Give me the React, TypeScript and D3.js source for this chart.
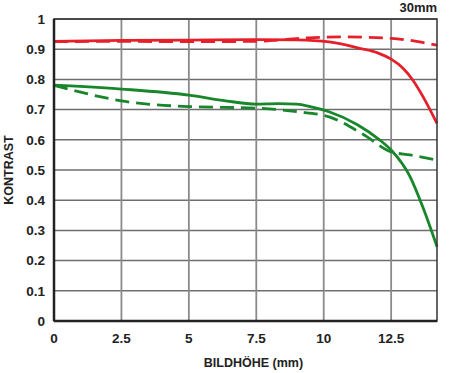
import * as d3 from "d3";

const WIDTH = 449;
const HEIGHT = 373;
const MARGIN = { top: 19, right: 12, bottom: 52, left: 54 };

const xTicks = [0, 2.5, 5, 7.5, 10, 12.5];
const yTicks = [0, 0.1, 0.2, 0.3, 0.4, 0.5, 0.6, 0.7, 0.8, 0.9, 1];

// Bildhöhe (mm) sample positions
const redSolidX = [0, 2.5, 5, 7.5, 9, 10.2, 11.33, 12, 12.5, 12.94, 13.3, 13.68, 14.2];
const redSolidY = [0.926, 0.929, 0.93, 0.932, 0.931, 0.924, 0.903, 0.888, 0.867, 0.837, 0.798, 0.743, 0.654];

const redDashX = [0, 2.5, 5, 7.5, 9.3, 10.6, 12.5, 13.5, 14.2];
const redDashY = [0.925, 0.926, 0.925, 0.926, 0.937, 0.941, 0.936, 0.925, 0.913];

const greenSolidX = [0, 2.5, 5, 6.3, 7.5, 8.3, 9, 9.5, 10.2, 11.25, 12.07, 12.5, 13.2, 13.67, 14.2];
const greenSolidY = [0.781, 0.768, 0.748, 0.73, 0.718, 0.72, 0.718, 0.71, 0.693, 0.65, 0.6, 0.566, 0.478, 0.378, 0.246];

const greenDashX = [0, 1.7, 2.5, 5, 7.5, 9, 10.2, 11.5, 12.5, 13.2, 14.2];
const greenDashY = [0.78, 0.743, 0.729, 0.71, 0.705, 0.693, 0.676, 0.616, 0.56, 0.55, 0.533];

const RED = "#e5202a";
const GREEN = "#18862a";
const FONT = "'Liberation Sans', Arial, sans-serif";

export default function App() {
  const boundsWidth = WIDTH - MARGIN.left - MARGIN.right;
  const boundsHeight = HEIGHT - MARGIN.top - MARGIN.bottom;

  const xScale = d3.scaleLinear().domain([0, 14.2]).range([0, boundsWidth]);
  const yScale = d3.scaleLinear().domain([0, 1]).range([boundsHeight, 0]);

  const line = d3
    .line<[number, number]>()
    .x((d) => xScale(d[0]))
    .y((d) => yScale(d[1]))
    .curve(d3.curveMonotoneX);

  const series = [
    { xs: redSolidX, ys: redSolidY, color: RED, dash: undefined },
    { xs: redDashX, ys: redDashY, color: RED, dash: "14 7" },
    { xs: greenSolidX, ys: greenSolidY, color: GREEN, dash: undefined },
    { xs: greenDashX, ys: greenDashY, color: GREEN, dash: "14 7" },
  ];

  return (
    <svg
      width={WIDTH}
      height={HEIGHT}
      style={{ position: "absolute", left: 0, top: 0, background: "#fff" }}
      fontFamily={FONT}
      fontWeight="bold"
    >
      <g transform={`translate(${MARGIN.left},${MARGIN.top})`}>
        {/* grid */}
        {yTicks.map((t) => (
          <line
            key={"y" + t}
            x1={0}
            x2={boundsWidth}
            y1={yScale(t)}
            y2={yScale(t)}
            stroke="#6e6e6e"
            strokeWidth={1.5}
          />
        ))}
        {xTicks.map((t) => (
          <line
            key={"x" + t}
            x1={xScale(t)}
            x2={xScale(t)}
            y1={0}
            y2={boundsHeight}
            stroke="#8a8a8a"
            strokeWidth={1.8}
          />
        ))}
        {/* curves */}
        {series.map((s, i) => (
          <path
            key={i}
            d={line(s.xs.map((x, j) => [x, s.ys[j]] as [number, number])) || ""}
            fill="none"
            stroke={s.color}
            strokeWidth={2.8}
            strokeDasharray={s.dash}
          />
        ))}
        {/* frame */}
        <rect
          x={0}
          y={0}
          width={boundsWidth}
          height={boundsHeight}
          fill="none"
          stroke="#333"
          strokeWidth={1.5}
        />
        <line x1={0} x2={boundsWidth} y1={boundsHeight} y2={boundsHeight} stroke="#222" strokeWidth={2.5} />
        <line x1={0} x2={0} y1={0} y2={boundsHeight} stroke="#222" strokeWidth={2.5} />
        {/* y tick labels */}
        {yTicks.map((t) => (
          <text
            key={"yl" + t}
            x={-9}
            y={yScale(t)}
            dy="0.35em"
            textAnchor="end"
            fontSize={13.5}
            fill="#222"
          >
            {t === 0 || t === 1 ? String(t) : t.toFixed(1)}
          </text>
        ))}
        {/* x tick labels */}
        {xTicks.map((t) => (
          <text
            key={"xl" + t}
            x={xScale(t)}
            y={boundsHeight + 22}
            textAnchor="middle"
            fontSize={13.5}
            fill="#222"
          >
            {String(t)}
          </text>
        ))}
        <text
          x={boundsWidth / 2 + 8}
          y={boundsHeight + 46}
          textAnchor="middle"
          fontSize={12.5}
          fill="#222"
        >
          BILDHÖHE (mm)
        </text>
        <text
          transform={`translate(${-41},${boundsHeight / 2}) rotate(-90)`}
          textAnchor="middle"
          fontSize={12.5}
          fill="#222"
        >
          KONTRAST
        </text>
        <text x={boundsWidth} y={-7} textAnchor="end" fontSize={13} fill="#222">
          30mm
        </text>
      </g>
    </svg>
  );
}
